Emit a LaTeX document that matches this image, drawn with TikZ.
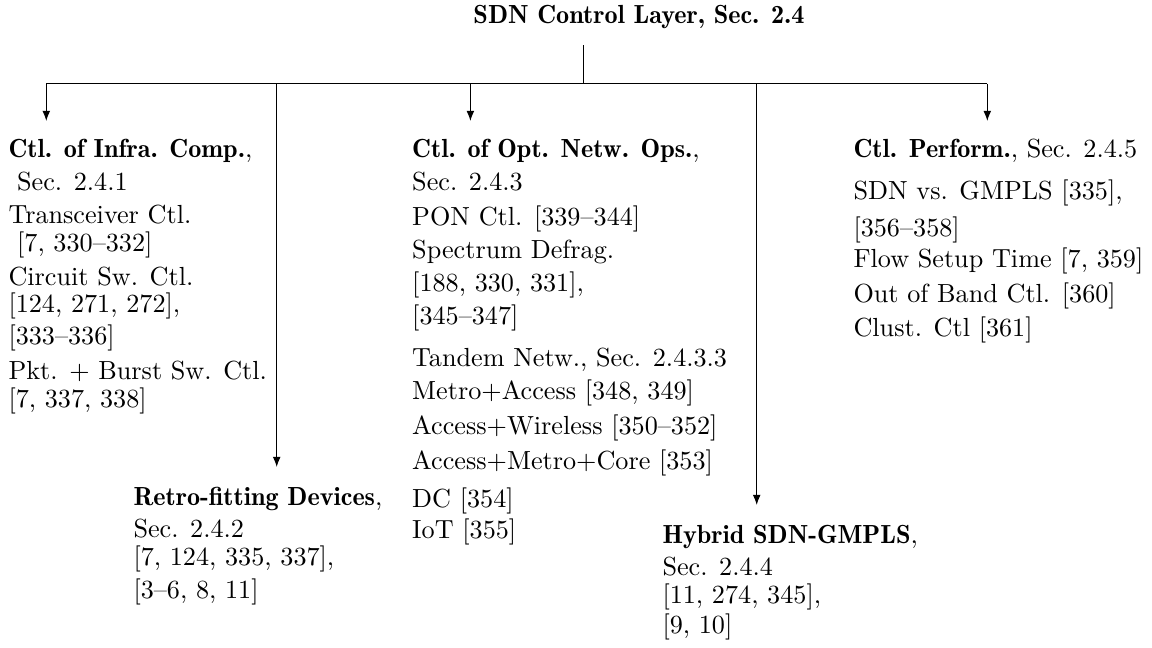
\documentclass[tikz,border=0pt]{standalone}
\usepackage{fontspec}
\newfontfamily\demifont{lmromandemi10-regular.otf}
\newcommand{\bd}[1]{{\demifont #1}}
\usetikzlibrary{arrows.meta}
\begin{document}
\begin{tikzpicture}[x=0.382pt,y=-0.382pt,
  txt/.style={anchor=base west, inner sep=0pt, font=\fontsize{10}{12}\selectfont},
  ttl/.style={anchor=base, inner sep=0pt, font=\fontsize{10}{12}\selectfont\demifont},
  conn/.style={line width=0.4pt, black},
  arr/.style={conn, -{Latex[length=3.9pt,width=3pt]}}]
\useasboundingbox (0,0) rectangle (1152,648);

% title
\node[ttl] (root) at (639,24) {SDN Control Layer, Sec. 2.4};

% column 1
\node[txt] (a0) at (8,158) {\bd{Ctl. of Infra. Comp.},};
\node[txt] (a1) at (8,190.7) {\hspace*{3.3pt}Sec. 2.4.1};
\node[txt] (a2) at (8,224) {Transceiver Ctl.};
\node[txt] (a3) at (8,251.7) {\hspace*{3.3pt}[7, 330--332]};
\node[txt] (a4) at (8,286) {Circuit Sw. Ctl.};
\node[txt] (a5) at (8,313) {[124, 271, 272],};
\node[txt] (a6) at (8,345) {[333--336]};
\node[txt] (a7) at (8,380) {Pkt. + Burst Sw. Ctl.};
\node[txt] (a8) at (8,408) {[7, 337, 338]};

% retro-fitting
\node[txt] (b0) at (133,505) {\bd{Retro-fitting Devices},};
\node[txt] (b1) at (133,537) {Sec. 2.4.2};
\node[txt] (b2) at (133,565) {[7, 124, 335, 337],};
\node[txt] (b3) at (133,598) {[3--6, 8, 11]};

% column 2
\node[txt] (c0) at (411.7,158) {\bd{Ctl. of Opt. Netw. Ops.},};
\node[txt] (c1) at (411.7,190.7) {Sec. 2.4.3};
\node[txt] (c2) at (411.7,226) {PON Ctl. [339--344]};
\node[txt] (c3) at (411.7,259) {Spectrum Defrag.};
\node[txt] (c4) at (411.7,291.7) {[188, 330, 331],};
\node[txt] (c5) at (411.7,325) {[345--347]};
\node[txt] (c6) at (411.7,367) {Tandem Netw., Sec. 2.4.3.3};
\node[txt] (c7) at (411.7,400) {Metro+Access [348, 349]};
\node[txt] (c8) at (411.7,435) {Access+Wireless [350--352]};
\node[txt] (c9) at (411.7,469) {Access+Metro+Core [353]};
\node[txt] (c10) at (411.7,507) {DC [354]};
\node[txt] (c11) at (411.7,538) {IoT [355]};

% hybrid
\node[txt] (d0) at (662,543) {\bd{Hybrid SDN-GMPLS},};
\node[txt] (d1) at (662,575) {Sec. 2.4.4};
\node[txt] (d2) at (662,603) {[11, 274, 345],};
\node[txt] (d3) at (662,633) {[9, 10]};

% column 3
\node[txt] (e0) at (853,158) {\bd{Ctl. Perform.}, Sec. 2.4.5};
\node[txt] (e1) at (853,200) {SDN vs. GMPLS [335],};
\node[txt] (e2) at (853,237) {[356--358]};
\node[txt] (e3) at (853,268) {Flow Setup Time [7, 359]};
\node[txt] (e4) at (853,303) {Out of Band Ctl. [360]};
\node[txt] (e5) at (853,337) {Clust. Ctl [361]};

% connectors
\coordinate (top) at (583.7,45.3);
\coordinate (jc) at (583.7,83.7);
\coordinate (j1) at (46.3,83.7);
\coordinate (j2) at (276.7,83.7);
\coordinate (j3) at (470.4,83.7);
\coordinate (j4) at (756.7,83.7);
\coordinate (j5) at (987.3,83.7);
\coordinate (t1) at (46.3,121);
\coordinate (t2) at (276.7,467);
\coordinate (t3) at (470.4,121);
\coordinate (t4) at (756.7,505);
\coordinate (t5) at (987.3,121);

\draw[conn] (top) -- (jc);
\draw[conn] (j1) -- (j5);
\draw[arr] (j1) -- (t1);
\draw[arr] (j2) -- (t2);
\draw[arr] (j3) -- (t3);
\draw[arr] (j4) -- (t4);
\draw[arr] (j5) -- (t5);
\end{tikzpicture}
\end{document}
